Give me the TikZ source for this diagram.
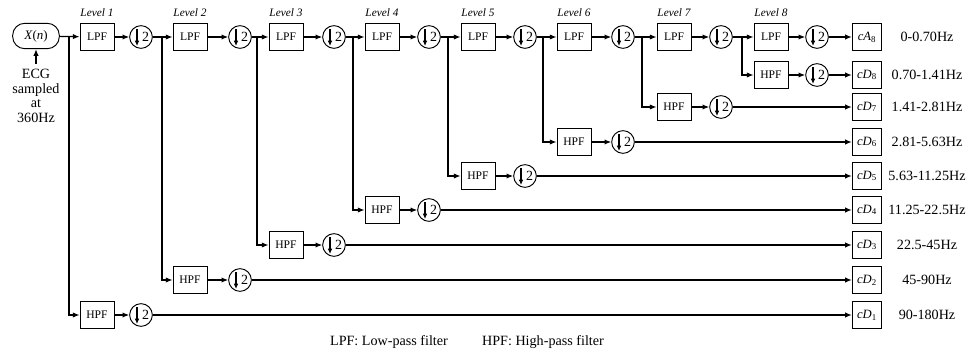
\documentclass[tikz,border=0pt]{standalone}
\usepackage{fontspec}
\setmainfont{Liberation Serif}
\usetikzlibrary{arrows.meta}
\begin{document}
\begin{tikzpicture}[x=0.75pt,y=-0.75pt,
  line width=0.9pt,
  arr/.style={-{Latex[length=5pt,width=4pt]}},
  filt/.style={draw,line width=0.7pt,minimum width=25.5pt,minimum height=20pt,inner sep=0pt,font=\fontsize{8.7}{10}\selectfont},
  outbox/.style={draw,line width=0.7pt,minimum width=22pt,minimum height=20pt,inner sep=0pt,font=\fontsize{9.5}{10}\selectfont},
  dsamp/.style={draw,circle,line width=0.7pt,minimum size=17pt,inner sep=0pt,
    path picture={
      \draw[line width=0.8pt,-{Latex[length=4pt,width=3.5pt]}]
        ([shift={(-4,-8)}]path picture bounding box.center) --
        ([shift={(-4,9)}]path picture bounding box.center);
      \node[inner sep=0pt,font=\fontsize{10.5}{12}\selectfont]
        at ([shift={(4.5,0)}]path picture bounding box.center) {2};
    }},
  lvl/.style={font=\itshape\fontsize{8.5}{10}\selectfont},
  freq/.style={font=\fontsize{10.6}{12}\selectfont},
  txt/.style={font=\fontsize{10.6}{11}\selectfont}]
\useasboundingbox (0,0) rectangle (970,356);

\node[draw,line width=0.7pt,rounded corners=9pt,minimum width=35pt,minimum height=19pt,inner sep=0pt,font=\fontsize{9.7}{11}\selectfont] (X) at (36,36) {\textit{X}(\textit{n})};
\node[txt,align=center,anchor=north] (ecg) at (36,64) {ECG\\sampled\\at\\360Hz};
\draw[arr] (ecg.north) -- (X.south);

\foreach \k/\lx/\cx/\bx/\hy/\fr in {
  1/97/141/69/315/90-180Hz,
  2/190/240/162/280/45-90Hz,
  3/286/334/257/245/22.5-45Hz,
  4/382/429/353/210/11.25-22.5Hz,
  5/478/525/448/176/5.63-11.25Hz,
  6/574/623/543/142/2.81-5.63Hz,
  7/674/721/642/107/1.41-2.81Hz,
  8/771/817/742/75/0.70-1.41Hz} {
  \node[filt] (L\k) at (\lx,37) {LPF};
  \node[lvl] (V\k) at (\lx,13) {Level \k};
  \node[dsamp] (D\k) at (\cx,37) {};
  \node[filt] (H\k) at (\lx,\hy) {HPF};
  \node[dsamp] (E\k) at (\cx,\hy) {};
  \node[outbox] (O\k) at (867,\hy) {\textit{cD}\textsubscript{\k}};
  \node[freq] (F\k) at (927,\hy) {\fr};
  \coordinate (B\k) at (\bx,37);
  \draw[arr] (L\k) -- (D\k);
  \draw[arr] (H\k) -- (E\k);
  \draw[arr] (E\k) -- (O\k);
  \draw[arr] (B\k) |- (H\k);
}
\node[outbox] (A8) at (867,37) {\textit{cA}\textsubscript{8}};
\node[freq] (FA) at (927,37) {0-0.70Hz};

\draw[arr] (X) -- (L1);
\foreach \a/\b in {1/2,2/3,3/4,4/5,5/6,6/7,7/8} {
  \draw[arr] (D\a) -- (L\b);
}
\draw[arr] (D8) -- (A8);

\node[txt] (lg1) at (389,342) {LPF: Low-pass filter};
\node[txt] (lg2) at (543,342) {HPF: High-pass filter};
\end{tikzpicture}
\end{document}
